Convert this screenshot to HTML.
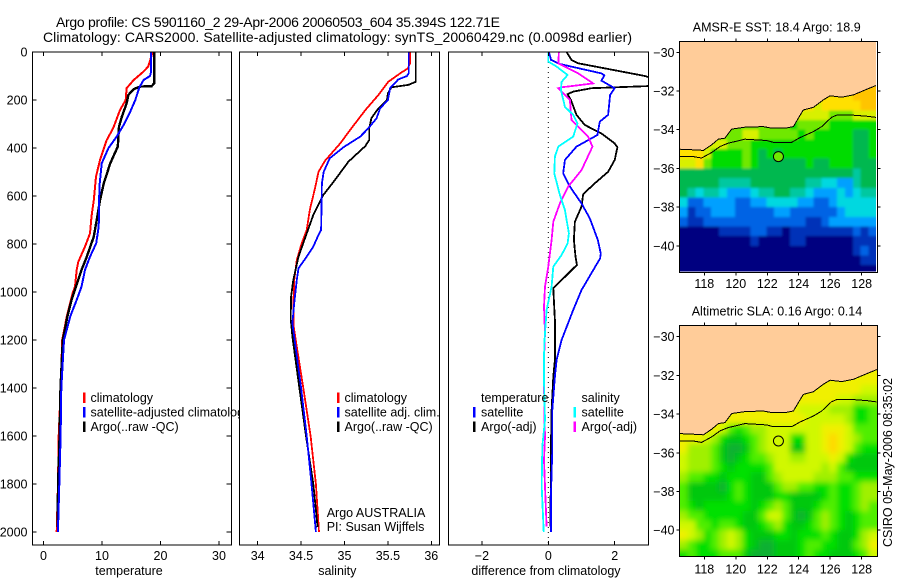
<!DOCTYPE html>
<html lang="en">
<head>
<meta charset="utf-8">
<title>Argo profile chart</title>
<style>
html,body{margin:0;padding:0;background:#fff;width:900px;height:580px;overflow:hidden}
svg{display:block}
text{font-family:"Liberation Sans",sans-serif;font-size:12.5px;fill:#000}
.series{fill:none;stroke-linejoin:miter;shape-rendering:crispEdges}
.tick{stroke:#000;stroke-width:1;shape-rendering:crispEdges}
.box{fill:none;stroke:#000;stroke-width:1;shape-rendering:crispEdges}
</style>
</head>
<body>
<svg id="chart" xmlns="http://www.w3.org/2000/svg" width="900" height="580" viewBox="0 0 900 580">
<defs>
<filter id="blur-sst" x="-5%" y="-5%" width="110%" height="110%"><feGaussianBlur stdDeviation="1.3"/></filter>
<filter id="blur-sla" x="-5%" y="-5%" width="110%" height="110%"><feGaussianBlur stdDeviation="3"/></filter>
</defs>
<rect width="900" height="580" fill="#fff"/>
<text x="56" y="27" style="font-size:14px" textLength="444" lengthAdjust="spacing">Argo profile: CS 5901160_2 29-Apr-2006 20060503_604 35.394S 122.71E</text>
<text x="43" y="42" style="font-size:14px" textLength="589" lengthAdjust="spacing">Climatology: CARS2000. Satellite-adjusted climatology: synTS_20060429.nc (0.0098d earlier)</text>
<g id="panels"></g>
<g id="maps"></g>
<text transform="translate(892 547) rotate(-90)" textLength="169" lengthAdjust="spacing">CSIRO 05-May-2006 08:35:02</text>
</svg>
<script>
/* ---------- shared depth ticks ---------- */
const depthTicks = [0,200,400,600,800,1000,1200,1400,1600,1800,2000];

/* ---------- temperature panel ---------- */
const tempTicks = [0,10,20,30];
const tempClimDepth = [0,61,82,117,151,200,242,318,367,450,519,617,686,756,811,874,908,978,1005,1100,1200,1400,1600,1800,2000];
const tempClim = [18.66,17.9,17.07,15.4,14.2,14.05,13.07,11.9,10.8,9.66,8.97,8.6,8.2,7.95,7.1,5.95,5.67,5.38,4.98,4.0,3.2,2.94,2.6,2.48,2.25];
const tempSatDepth = [0,82,100,117,147,200,256,304,353,401,464,561,728,797,853,908,978,1033,1100,1200,1400,1600,1800,2000];
const tempSat = [18.4,18.4,18.2,17.1,16.4,15.7,14.7,13.7,12.5,11.1,9.95,9.55,9.43,9,7.95,7.1,6.5,5.67,4.6,3.5,3.05,2.93,2.7,2.47];
const tempArgoDepth = [0,130,142,144,155,179,214,269,311,394,464,547,617,700,769,853,908,978,1033,1100,1200,1400,1600,1800,1980];
const tempArgo = [18.95,18.95,18.5,16.5,15.4,14.5,14.2,13.4,12.9,12.7,11.4,10.3,9.66,9.1,8.6,7.4,6.5,5.55,4.8,4.1,3.3,2.9,2.75,2.5,2.4];

/* ---------- salinity panel ---------- */
const salTicks = [34,34.5,35,35.5,36];
const salClimDepth = [0,47,68,89,124,179,242,318,381,453,499,568,658,742,797,867,950,1061,1144,1250,1400,1600,1800,2000];
const salClim = [35.755,35.755,35.73,35.64,35.505,35.39,35.24,35.08,34.95,34.776,34.7,34.66,34.6,34.565,34.507,34.45,34.42,34.41,34.415,34.46,34.525,34.61,34.67,34.706];
const salSatDepth = [0,89,100,114,151,200,235,276,318,353,397,443,499,547,742,762,811,853,901,950,1047,1130,1186,1400,1600,1800,2000];
const salSat = [35.74,35.74,35.72,35.62,35.525,35.5,35.41,35.37,35.275,35.18,34.987,34.83,34.76,34.74,34.73,34.7,34.64,34.565,34.47,34.45,34.42,34.4,34.42,34.5,34.565,34.62,34.67];
const salArgoDepth = [0,124,137,147,172,200,235,276,318,367,392,457,533,596,679,776,853,950,1019,1110,1186,1400,1600,1800,1980];
const salArgo = [35.82,35.82,35.735,35.54,35.5,35.49,35.39,35.31,35.285,35.285,35.24,35.045,34.89,34.756,34.64,34.545,34.47,34.41,34.385,34.38,34.4,34.48,34.556,34.64,34.69];

/* ---------- difference panel ---------- */
const diffTicks = [-2,0,2];
const diffTempArgoDepth = [0,33,47,100,125,142,151,165,176,200,262,304,339,381,397,450,499,547,592,644,707,783,853,887,985,1117,1283,1353,1492,1630,1728,1978];
const diffTempArgo = [0.55,0.7,0.9,2.91,3.5,3.0,1.3,0.75,0.58,0.68,0.85,1.1,1.6,2.0,2.08,2.0,1.8,1.4,1.05,1.0,0.8,0.77,0.82,0.86,0.15,0.2,0.2,0.15,0.1,0.08,0.08,0.06];
const diffTempSatDepth = [0,33,50,89,97,119,151,179,262,290,346,394,450,506,561,631,693,783,840,860,992,1075,1200,1283,1353,1492,1658,1839,1999];
const diffTempSat = [0.02,0.08,0.35,1.6,1.69,1.6,2.0,1.86,1.8,1.55,1.48,0.85,0.5,0.45,0.65,1.0,1.25,1.49,1.58,1.56,1.0,0.75,0.4,0.25,0.2,0.12,0.12,0.08,0.08];
const diffSalArgoDepth = [0,47,89,131,147,151,200,283,353,394,492,561,631,707,783,894,978,1061,1172,1283,1353,1492,1603,1700,1811,1978];
const diffSalArgo = [0.32,0.3,0.9,1.35,0.4,0.3,0.65,0.7,1.2,1.33,1.0,0.6,0.35,0.15,0.1,0,-0.1,-0.13,-0.1,-0.13,-0.13,-0.12,-0.1,-0.13,-0.1,-0.05];
const diffSalSatDepth = [0,40,61,96,124,158,228,262,297,353,394,436,506,596,658,756,797,846,894,978,1075,1214,1283,1367,1533,1644,1811,1999];
const diffSalSat = [0,0,0.25,0.58,0.4,0.38,0.5,0.75,0.88,0.75,0.3,0.2,0.18,0.35,0.5,0.62,0.58,0.4,0.15,0.1,-0.05,-0.12,-0.13,-0.13,-0.1,-0.18,-0.2,-0.14];

/* ---------- map shared data ---------- */
const lonTicks = [118,120,122,124,126,128];
const latTicks = [-30,-32,-34,-36,-38,-40];
const coastLon = [116.41,117.3,117.94,118.47,118.89,119.31,119.74,120.58,121.75,122.28,123.13,123.66,123.97,124.29,124.93,125.56,125.99,126.73,127.47,128.32,128.95];
const coastLat = [-35.01,-35.04,-35.07,-34.78,-34.49,-34.44,-33.97,-33.87,-33.84,-33.92,-33.92,-33.84,-33.41,-32.98,-32.84,-32.46,-32.25,-32.32,-32.2,-31.91,-31.7];
const isobathLon = [116.41,117.3,117.83,118.47,119,119.52,120.58,121.96,122.38,123.55,124.08,124.93,125.46,126.09,126.41,127.47,128.32,128.95];
const isobathLat = [-35.39,-35.39,-35.46,-35.18,-34.87,-34.7,-34.49,-34.56,-34.65,-34.65,-34.41,-34.1,-33.84,-33.36,-33.25,-33.25,-33.3,-33.37];
const argoLon = [122.71];
const argoLat = [-35.39];
/* Rows run from the -31.5 band southward in half-degree bands; columns from 116.5E eastward. */
const sstLevels = [
[10,10,10,10,10,10,10,10,10,10,10,10,10,10,10,10,10,10,10,10,10,10,10,11,11],
[10,10,10,10,10,10,10,10,10,10,10,10,10,10,10,10,10,10,10,10,10,10,11,11,11],
[10,10,10,10,10,10,10,10,10,10,10,10,10,10,10,10,10,9,10,10,10,10,10,11,11],
[9,9,9,9,9,9,9,9,9,9,9,9,9,9,9,9,9,9,9,8,8,8,9,9,9],
[9,9,9,9,9,9,8,8,8,8,8,8,8,8,7,8,8,8,8,7,7,7,7,7,7],
[9,9,9,9,9,8,8,8,9,9,8,8,8,8,8,7,8,7,7,7,7,7,6,6,7],
[10,10,10,9,9,9,8,8,8,7,7,7,7,7,7,7,7,7,7,7,7,7,6,6,7],
[10,10,10,9,7,7,7,7,8,7,6,7,6,7,7,7,7,7,7,7,7,7,6,6,7],
[9,9,10,8,7,7,7,7,8,7,6,6,6,6,6,6,7,6,6,7,7,7,6,6,6],
[6,6,6,6,6,6,6,6,6,6,6,6,6,6,6,6,6,6,6,6,6,6,5,6,6],
[6,6,6,6,6,5,5,5,5,6,6,6,6,6,6,6,5,5,4,4,3,3,5,6,6],
[6,5,4,5,5,4,3,3,3,4,5,5,6,6,5,5,4,3,3,3,4,3,4,5,5],
[4,2,2,3,3,3,3,2,2,3,3,4,4,4,4,3,3,2,2,3,4,4,4,4,4],
[3,1,2,2,3,3,3,2,2,2,2,2,3,3,2,2,2,2,2,2,3,4,4,4,4],
[2,1,1,2,2,2,2,2,2,2,2,2,2,2,2,2,1,1,2,3,3,3,3,3,3],
[0,0,0,0,0,1,1,1,1,2,2,1,1,0,1,1,1,1,1,1,1,1,2,1,2],
[0,0,0,0,0,0,0,0,0,1,0,0,0,0,1,1,0,0,0,0,0,0,1,1,1],
[0,0,0,0,0,0,0,0,0,0,0,0,0,0,0,0,0,0,0,0,0,0,1,2,1],
[0,0,0,0,0,0,0,0,0,0,0,0,0,0,0,0,0,0,0,0,0,0,0,1,1],
[0,0,0,0,0,0,0,0,0,0,0,0,0,0,0,0,0,0,0,0,0,0,0,0,0]
];
const slaLevels = [
[6,6,6,6,6,6,6,6,6,6,6,6,6,6,6,6,6,6,6,6,6,6,6,6,6],
[6,6,6,6,6,6,6,6,6,6,6,6,6,6,6,6,6,6,6,6,6,6,6,6,6],
[6,6,6,6,6,6,6,6,6,6,6,6,6,6,6,6,6,6,6,6,6,6,6,5,5],
[6,6,6,6,6,6,6,6,6,6,6,6,6,6,6,6,6,6,6,6,5,5,4,4,4],
[6,6,6,6,6,6,6,6,6,6,6,6,6,6,6,5,5,5,5,4,4,4,2,2,3],
[6,6,6,6,6,6,6,6,6,6,6,6,6,6,6,6,5,5,5,5,5,4,2,2,3],
[6,6,6,6,6,5,3,2,3,4,4,5,5,5,5,5,5,5,6,6,6,5,3,3,3],
[6,6,6,5,4,2,1,1,2,3,4,5,5,5,2,2,5,5,6,7,6,5,4,3,3],
[6,4,4,4,3,1,0,0,1,3,4,5,5,5,1,1,5,5,6,7,6,5,3,2,2],
[5,4,4,4,3,1,0,1,2,3,3,4,5,5,4,4,5,5,5,6,5,2,1,1,1],
[5,4,4,4,3,2,1,2,2,2,2,3,5,5,5,5,5,5,4,5,3,1,1,1,1],
[4,3,3,2,2,1,2,2,2,1,1,3,4,5,5,5,5,4,4,4,3,3,2,2,2],
[3,1,1,1,1,0,2,3,2,1,1,1,3,4,4,3,3,2,2,3,2,2,3,4,4],
[3,1,1,1,1,1,2,3,2,1,1,1,2,2,1,1,1,1,2,3,2,2,3,4,4],
[3,2,1,2,2,2,2,2,2,1,2,3,4,3,1,1,1,2,3,3,2,2,3,4,3],
[4,3,3,2,2,2,2,2,1,1,3,5,5,3,1,0,1,3,4,3,2,1,2,3,3],
[5,5,3,3,2,3,3,2,1,1,2,3,4,2,1,1,2,3,4,3,2,1,2,3,3],
[6,5,4,2,3,4,5,4,2,1,1,1,2,2,1,2,2,2,3,2,1,1,2,4,5],
[4,3,2,2,3,4,5,4,2,1,0,0,1,1,1,2,3,3,2,2,1,1,3,4,6],
[2,3,2,2,2,3,3,3,1,0,0,0,1,1,1,2,3,2,2,1,1,1,2,3,5]
];
const sstPalette = ['#000080','#0030b8','#0064e4','#00a0ff','#00d8e0','#00c8a0','#00b850','#00dc00','#70e800','#d8f000','#ffe000','#ffc400'];
const slaPalette = ['#10b030','#00c810','#00e000','#50ee00','#a0f000','#d0f800','#f0f000','#ffd800','#ffb800'];

const NS = 'http://www.w3.org/2000/svg';
function svgEl(tag, attrs, parent, txt) {
  const e = document.createElementNS(NS, tag);
  for (const k in attrs) e.setAttribute(k, attrs[k]);
  if (txt !== undefined) e.textContent = txt;
  parent.appendChild(e);
  return e;
}
function fmt(v) { return String(v).replace('-', '\u2212'); }

/* ---------- profile panels ---------- */
const PT = 52, PB = 545;
const depthY = d => 52 + 0.24 * d;
const panelsG = document.getElementById('panels');
let clipId = 0;

function drawPanel(cfg) {
  const g = svgEl('g', {}, panelsG);
  
  
  const bg = svgEl('rect', {x: cfg.left, y: PT, width: cfg.right - cfg.left, height: PB - PT, fill: '#fff'}, g);
  
  
  const cid = 'clip' + (clipId++);
  const cp = svgEl('clipPath', {id: cid}, g);
  svgEl('rect', {x: cfg.left, y: PT, width: cfg.right - cfg.left, height: PB - PT}, cp);
  if (cfg.zeroLine) {
    const z = svgEl('line', {x1: cfg.x(0), x2: cfg.x(0), y1: PT, y2: PB, stroke: '#000', 'stroke-width': 1, 'stroke-dasharray': '1 4'}, g);
    
    
  }
  cfg.series.forEach(s => {
    const pts = s.depth.map((d, i) => cfg.x(s.values[i]).toFixed(1) + ',' + depthY(d).toFixed(1)).join(' ');
    const l = svgEl('polyline', {points: pts, class: 'series', stroke: s.color, 'stroke-width': s.w, 'clip-path': 'url(#' + cid + ')'}, g);
    
    
  });
  const box = svgEl('rect', {x: cfg.left, y: PT, width: cfg.right - cfg.left, height: PB - PT, class: 'box'}, g);
  
  
  cfg.ticks.forEach(v => {
    const x = cfg.x(v);
    [[PT, PT + 4], [PB - 4, PB]].forEach(p => {
      const t = svgEl('line', {x1: x, x2: x, y1: p[0], y2: p[1], class: 'tick'}, g);
      
      
    });
    const lb = svgEl('text', {x: x, y: 560, 'text-anchor': 'middle'}, g, fmt(v));
    
    
  });
  const title = svgEl('text', {x: cfg.labelX, y: 575, 'text-anchor': 'middle'}, g, cfg.label);
  
  
  if (cfg.yAxis) {
    depthTicks.forEach(d => {
      const y = depthY(d);
      [[cfg.left, cfg.left + 4], [cfg.right - 5, cfg.right]].forEach(p => {
        const t = svgEl('line', {x1: p[0], x2: p[1], y1: y, y2: y, class: 'tick'}, g);
        
        
      });
      const lb = svgEl('text', {x: 27.5, y: y + 4.5, 'text-anchor': 'end'}, g, String(d));
      
      
    });
  }
  cfg.legend.forEach(e => {
    if (e.color) {
      const k = svgEl('rect', {x: e.kx, y: e.y - 9.5, width: 2.4, height: 10.5, fill: e.color, 'shape-rendering': 'crispEdges'}, g);
      
      
    }
    const tx = svgEl('text', {x: e.tx, y: e.y}, g, e.text);
    
    
  });
}

drawPanel({
  name: 'temperature', left: 32.5, right: 231.5, x: v => 43.5 + 5.85 * v, ticks: tempTicks,
  label: 'temperature', labelX: 129, yAxis: true,
  series: [
    {name: 'temperature-climatology-line', depth: tempClimDepth, values: tempClim, color: '#ff0000', w: 2},
    {name: 'temperature-argo-line', depth: tempArgoDepth, values: tempArgo, color: '#000', w: 2.4},
    {name: 'temperature-satellite-line', depth: tempSatDepth, values: tempSat, color: '#0000ff', w: 2}
  ],
  legend: [
    {kx: 83, tx: 90.5, y: 402, color: '#ff0000', text: 'climatology'},
    {kx: 83, tx: 90.5, y: 416.5, color: '#0000ff', text: 'satellite-adjusted climatology'},
    {kx: 83, tx: 90.5, y: 431, color: '#000', text: 'Argo(..raw -QC)'}
  ]
});
drawPanel({
  name: 'salinity', left: 239.5, right: 439.5, x: v => 257.7 + 86.8 * (v - 34), ticks: salTicks,
  label: 'salinity', labelX: 337.3,
  series: [
    {name: 'salinity-climatology-line', depth: salClimDepth, values: salClim, color: '#ff0000', w: 1.8},
    {name: 'salinity-argo-line', depth: salArgoDepth, values: salArgo, color: '#000', w: 1.8},
    {name: 'salinity-satellite-line', depth: salSatDepth, values: salSat, color: '#0000ff', w: 1.8}
  ],
  legend: [
    {kx: 337, tx: 344.5, y: 402, color: '#ff0000', text: 'climatology'},
    {kx: 337, tx: 344.5, y: 416.5, color: '#0000ff', text: 'satellite adj. clim.'},
    {kx: 337, tx: 344.5, y: 431, color: '#000', text: 'Argo(..raw -QC)'},
    {tx: 326.7, y: 517, text: 'Argo AUSTRALIA'},
    {tx: 326.7, y: 531, text: 'PI: Susan Wijffels'}
  ]
});
drawPanel({
  name: 'difference', left: 448.5, right: 648.5, x: v => 548.3 + 33.2 * v, ticks: diffTicks, zeroLine: true,
  label: 'difference from climatology', labelX: 546,
  series: [
    {name: 'difference-temperature-argo-line', depth: diffTempArgoDepth, values: diffTempArgo, color: '#000', w: 1.8},
    {name: 'difference-temperature-satellite-line', depth: diffTempSatDepth, values: diffTempSat, color: '#0000ff', w: 1.8},
    {name: 'difference-salinity-argo-line', depth: diffSalArgoDepth, values: diffSalArgo, color: '#ff00ff', w: 1.8},
    {name: 'difference-salinity-satellite-line', depth: diffSalSatDepth, values: diffSalSat, color: '#00ffff', w: 1.8}
  ],
  legend: [
    {tx: 481, y: 402, text: 'temperature'},
    {kx: 473, tx: 481, y: 416.5, color: '#0000ff', text: 'satellite'},
    {kx: 473, tx: 481, y: 431, color: '#000', text: 'Argo(-adj)'},
    {tx: 581.5, y: 402, text: 'salinity'},
    {kx: 573.5, tx: 581.5, y: 416.5, color: '#00ffff', text: 'satellite'},
    {kx: 573.5, tx: 581.5, y: 431, color: '#ff00ff', text: 'Argo(-adj)'}
  ]
});

/* ---------- maps ---------- */
const mapsG = document.getElementById('maps');
function drawMap(cfg) {
  const lonX = lon => 704.3 + (lon - 118) * 15.74;
  const latY = lat => cfg.y30 + (-30 - lat) * 19.35;
  const L = 679.5, R = 877.5, T = cfg.top, B = cfg.bottom;
  const g = svgEl('g', {}, mapsG);
  
  
  const cid = 'clip' + (clipId++);
  const cp = svgEl('clipPath', {id: cid}, g);
  svgEl('rect', {x: L, y: T, width: cfg.dataRight - L, height: cfg.dataBottom - T}, cp);
  const inner = svgEl('g', {'clip-path': 'url(#' + cid + ')'}, g);
  const bg = svgEl('rect', {x: L, y: T, width: R - L, height: B - T, fill: '#ffcc99'}, inner);
  
  
  const cells = svgEl('g', {filter: 'url(#' + cfg.blur + ')'}, inner);
  
  
  const lastRow = cfg.levels.length - 1;
  cfg.levels.forEach((row, r) => {
    const latTop = -31.5 - 0.5 * r;
    row.forEach((v, c) => {
      const lon = 116.5 + 0.5 * c;
      const pad = c === 0 ? 12 : 1;
      const x0 = lonX(lon) - pad, x1 = lonX(lon + 0.5) + (c === row.length - 1 ? 12 : 0.5);
      const y0 = latY(latTop), y1 = latY(latTop - 0.5) + (r === lastRow ? 12 : 0.5);
      const cell = svgEl('rect', {x: x0, y: y0, width: x1 - x0, height: y1 - y0, fill: cfg.palette[v], 'shape-rendering': 'crispEdges'}, cells);
      
      
    });
  });
  const landPts = coastLon.map((lon, i) => lonX(lon).toFixed(1) + ',' + latY(coastLat[i]).toFixed(1));
  landPts.push(R + ',' + latY(coastLat[coastLat.length - 1]).toFixed(1), R + ',' + T, L + ',' + T, L + ',' + latY(coastLat[0]).toFixed(1));
  const land = svgEl('polygon', {points: landPts.join(' '), fill: '#ffcc99'}, inner);
  
  
  const coast = svgEl('polyline', {points: coastLon.map((lon, i) => lonX(lon).toFixed(1) + ',' + latY(coastLat[i]).toFixed(1)).join(' '), fill: 'none', stroke: '#000', 'stroke-width': 1, 'shape-rendering': 'crispEdges'}, inner);
  
  
  const iso = svgEl('polyline', {points: isobathLon.map((lon, i) => lonX(lon).toFixed(1) + ',' + latY(isobathLat[i]).toFixed(1)).join(' '), fill: 'none', stroke: '#000', 'stroke-width': 1, 'shape-rendering': 'crispEdges'}, inner);
  
  
  const mark = svgEl('circle', {cx: lonX(argoLon[0]), cy: latY(argoLat[0]), r: 5, fill: cfg.markFill, stroke: '#000', 'stroke-width': 1}, g);
  
  
  const box = svgEl('rect', {x: L, y: T, width: R - L, height: B - T, class: 'box'}, g);
  
  
  lonTicks.forEach(lon => {
    const x = lonX(lon);
    [[T - 3, T], [B, B + 3]].forEach(p => {
      const t = svgEl('line', {x1: x, x2: x, y1: p[0], y2: p[1], class: 'tick'}, g);
      
      
    });
    const lb = svgEl('text', {x: x, y: cfg.lonLabelY, 'text-anchor': 'middle'}, g, String(lon));
    
    
  });
  latTicks.forEach(lat => {
    const y = latY(lat);
    [[L - 3, L], [R, R + 3]].forEach(p => {
      const t = svgEl('line', {x1: p[0], x2: p[1], y1: y, y2: y, class: 'tick'}, g);
      
      
    });
    const lb = svgEl('text', {x: 674.5, y: y + 4.5, 'text-anchor': 'end'}, g, fmt(lat));
    
    
  });
  const title = svgEl('text', {x: cfg.titleX, y: cfg.titleY, textLength: cfg.titleW, lengthAdjust: 'spacing'}, g, cfg.title);
  
  
}
drawMap({
  name: 'sst', levels: sstLevels, palette: sstPalette, markFill: sstPalette[8], blur: 'blur-sst',
  y30: 52.3, top: 41.5, bottom: 272.5, dataRight: 876, dataBottom: 271.5,
  lonLabelY: 288, title: 'AMSR-E SST: 18.4 Argo: 18.9', titleX: 692.7, titleY: 31.5, titleW: 168
});
drawMap({
  name: 'sla', levels: slaLevels, palette: slaPalette, markFill: slaPalette[5], blur: 'blur-sla',
  y30: 336.7, top: 325.5, bottom: 556.5, dataRight: 877.5, dataBottom: 556.5,
  lonLabelY: 573.5, title: 'Altimetric SLA: 0.16 Argo: 0.14', titleX: 691.7, titleY: 315.5, titleW: 170.5
});
</script>
</body>
</html>
